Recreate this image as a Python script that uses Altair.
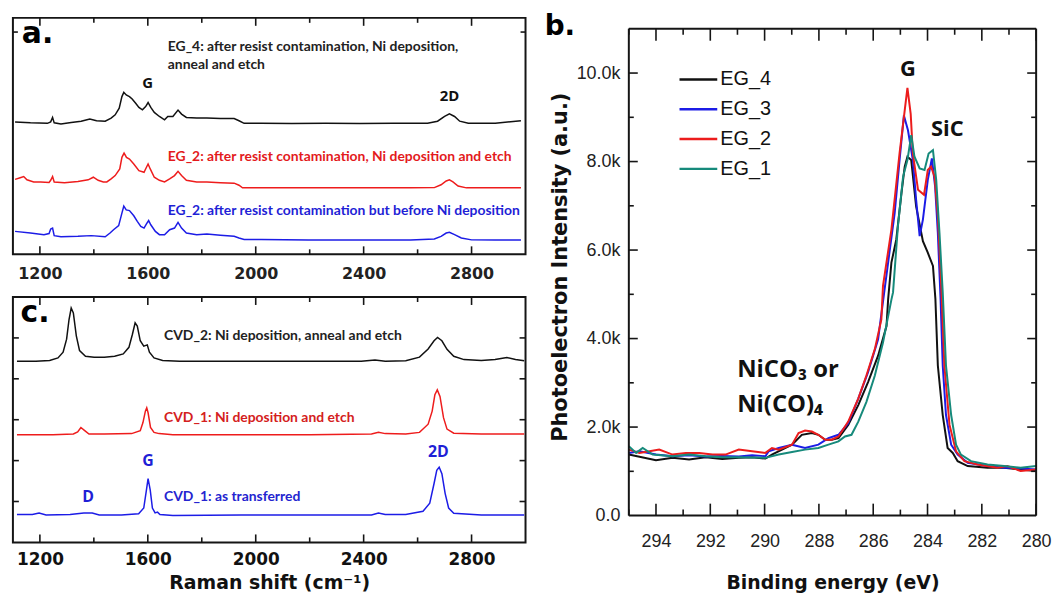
import altair as alt
import pandas as pd

# ---------------- Panel a: Raman spectra of epitaxial graphene ----------------
a_eg4_shift = [1108, 1165, 1228, 1240, 1247, 1253, 1278, 1316, 1353, 1385, 1410, 1442, 1464, 1479, 1494, 1504, 1511,
               1520, 1532, 1542, 1555, 1567, 1580, 1592, 1601, 1611, 1624, 1643, 1662, 1674, 1693, 1712, 1725, 1743,
               1781, 1819, 1869, 1920, 1938, 1957, 2020, 2133, 2259, 2385, 2511, 2637, 2674, 2700, 2718, 2737, 2756,
               2788, 2888, 2983]
a_eg4_int = [56.0, 55.6, 55.4, 56.0, 57.9, 55.6, 55.1, 55.7, 56.3, 57.2, 56.5, 56.3, 57.6, 59.0, 61.8, 66.7, 68.5,
             67.4, 66.7, 65.7, 63.9, 62.1, 61.1, 62.5, 64.2, 62.1, 60.0, 58.3, 56.9, 58.3, 58.3, 61.0, 59.3, 57.9,
             57.6, 57.6, 57.4, 57.4, 56.5, 55.4, 55.4, 55.3, 55.4, 55.3, 55.4, 55.4, 56.3, 58.3, 59.4, 58.3, 56.3,
             55.4, 55.4, 56.5]

a_eg2etch_shift = [1108, 1127, 1140, 1152, 1177, 1203, 1234, 1240, 1247, 1253, 1291, 1341, 1379, 1398, 1416, 1435,
                   1448, 1464, 1479, 1496, 1504, 1512, 1521, 1532, 1548, 1567, 1586, 1595, 1601, 1609, 1624, 1643,
                   1662, 1681, 1699, 1712, 1725, 1743, 1781, 1819, 1869, 1920, 1938, 1951, 2020, 2196, 2385, 2574,
                   2662, 2687, 2706, 2718, 2731, 2750, 2781, 2888, 2983]
a_eg2etch_int = [31.7, 32.4, 32.9, 31.5, 30.6, 30.6, 30.4, 31.3, 32.9, 30.6, 30.3, 30.8, 31.5, 32.6, 31.3, 30.6,
                 30.6, 31.9, 33.3, 36.1, 41.0, 42.8, 41.0, 40.3, 38.2, 35.4, 34.7, 36.8, 38.2, 36.1, 32.6, 31.3,
                 30.6, 31.9, 33.3, 35.1, 33.3, 31.3, 30.6, 30.6, 30.3, 30.1, 29.2, 28.1, 28.1, 28.1, 28.1, 28.1,
                 28.2, 29.4, 31.0, 31.5, 30.6, 28.9, 28.1, 28.1, 28.1]

a_eg2pre_shift = [1108, 1165, 1215, 1234, 1240, 1247, 1253, 1278, 1341, 1391, 1442, 1460, 1473, 1492, 1504, 1511,
                  1520, 1532, 1548, 1561, 1574, 1586, 1595, 1603, 1611, 1628, 1643, 1662, 1681, 1699, 1712, 1725,
                  1743, 1781, 1819, 1869, 1920, 1938, 1957, 2020, 2196, 2385, 2574, 2662, 2687, 2706, 2718, 2737,
                  2762, 2800, 2888, 2983]
a_eg2pre_int = [9.7, 9.0, 8.3, 8.8, 10.7, 11.1, 7.9, 7.4, 7.6, 7.9, 7.4, 9.0, 10.4, 12.1, 17.4, 20.4, 18.8, 18.5,
                16.3, 13.9, 11.8, 11.1, 12.9, 14.3, 12.5, 9.7, 8.3, 8.3, 10.4, 11.1, 13.5, 11.1, 9.0, 8.3, 8.6, 8.1,
                7.6, 6.9, 6.3, 6.3, 6.1, 6.1, 6.1, 6.5, 7.6, 9.0, 9.3, 8.3, 6.9, 6.1, 6.0, 6.0]

# ---------------- Panel c: Raman spectra of CVD graphene ----------------
c_cvd2_shift = [1115, 1185, 1236, 1267, 1286, 1299, 1308, 1316, 1324, 1335, 1347, 1369, 1401, 1439, 1477, 1509,
                1530, 1543, 1553, 1561, 1572, 1585, 1598, 1606, 1623, 1655, 1718, 1947, 2201, 2391, 2442, 2480,
                2556, 2607, 2639, 2661, 2674, 2690, 2709, 2734, 2772, 2836, 2887, 2931, 2963, 2995]
c_cvd2_int = [4.43, 4.43, 4.45, 4.51, 4.65, 4.97, 5.45, 5.73, 5.61, 5.05, 4.69, 4.55, 4.53, 4.53, 4.55, 4.61, 4.77,
              5.09, 5.37, 5.29, 4.93, 4.80, 4.83, 4.65, 4.51, 4.45, 4.43, 4.43, 4.43, 4.43, 4.46, 4.43, 4.44, 4.53,
              4.73, 4.93, 5.01, 4.93, 4.72, 4.55, 4.47, 4.45, 4.47, 4.52, 4.47, 4.44]

c_cvd1etch_shift = [1115, 1248, 1324, 1340, 1352, 1365, 1382, 1439, 1540, 1572, 1582, 1591, 1596, 1601, 1610, 1623,
                    1642, 1693, 1947, 2201, 2429, 2455, 2480, 2556, 2607, 2639, 2654, 2664, 2673, 2683, 2696, 2709,
                    2734, 2836, 2995]
c_cvd1etch_int = [2.63, 2.63, 2.65, 2.70, 2.81, 2.74, 2.65, 2.65, 2.66, 2.73, 2.93, 3.21, 3.29, 3.17, 2.81, 2.69,
                  2.66, 2.63, 2.63, 2.63, 2.65, 2.69, 2.66, 2.65, 2.69, 2.89, 3.21, 3.61, 3.73, 3.57, 3.05, 2.77,
                  2.67, 2.65, 2.65]

c_cvd1as_shift = [1115, 1172, 1197, 1223, 1312, 1363, 1394, 1420, 1502, 1566, 1585, 1594, 1601, 1609, 1617, 1627,
                  1636, 1645, 1693, 1947, 2201, 2429, 2455, 2480, 2556, 2620, 2645, 2661, 2671, 2680, 2690, 2702,
                  2715, 2734, 2836, 2995]
c_cvd1as_int = [0.68, 0.68, 0.72, 0.67, 0.68, 0.72, 0.72, 0.67, 0.67, 0.70, 0.84, 1.24, 1.56, 1.28, 0.84, 0.72,
                0.74, 0.68, 0.66, 0.67, 0.67, 0.67, 0.72, 0.68, 0.68, 0.76, 0.96, 1.44, 1.76, 1.84, 1.68, 1.20,
                0.84, 0.71, 0.67, 0.67]

# ---------------- Panel b: C 1s XPS spectra ----------------
b_series = ["EG_4", "EG_3", "EG_2", "EG_1"]
b_colors = ["#111111", "#1c1ce6", "#ec1c1c", "#168a7b"]

b_eg4_be = [295.0, 294.0, 293.39, 292.78, 292.17, 291.56, 290.95, 290.46, 289.97, 289.73, 288.99, 288.63, 288.26,
            288.02, 287.77, 287.53, 287.28, 286.92, 286.55, 286.19, 285.82, 285.51, 285.45, 285.33, 285.15, 284.96,
            284.84, 284.74, 284.60, 284.42, 284.17, 283.99, 283.80, 283.71, 283.62, 283.44, 283.26, 283.07, 282.89,
            282.52, 281.79, 281.18, 280.57, 280.0]
b_eg4_int = [1378, 1252, 1304, 1267, 1319, 1281, 1304, 1319, 1289, 1378, 1602, 1825, 1863, 1825, 1714, 1714, 1751,
             2049, 2496, 3017, 3613, 4284, 4893, 5716, 6239, 7286, 7884, 8108, 8034, 6987, 6202, 5940, 5641, 4893,
             3390, 2272, 1527, 1416, 1229, 1118, 1080, 1080, 1043, 1006]

b_eg3_be = [295.0, 294.61, 294.0, 293.39, 292.78, 292.17, 291.56, 290.95, 290.46, 289.97, 289.85, 289.48, 288.99,
            288.51, 288.02, 287.65, 287.28, 286.92, 286.55, 286.19, 285.82, 285.58, 285.21, 285.03, 284.87, 284.72,
            284.54, 284.42, 284.29, 284.17, 283.99, 283.84, 283.72, 283.62, 283.52, 283.44, 283.32, 283.13, 282.89,
            282.52, 281.79, 281.18, 280.57, 280.0]
b_eg3_int = [1416, 1453, 1378, 1341, 1363, 1334, 1348, 1334, 1363, 1341, 1453, 1527, 1602, 1527, 1602, 1751, 1825,
             2086, 2645, 3241, 3986, 5118, 6837, 8034, 9043, 8707, 8034, 7136, 6314, 6688, 7585, 8071, 7435, 6389,
             4893, 3390, 2272, 1602, 1378, 1192, 1118, 1080, 1065, 1043]

b_eg2_be = [295.0, 294.61, 293.88, 293.39, 292.90, 292.41, 291.92, 291.44, 290.95, 290.46, 289.97, 289.73, 289.48,
            288.99, 288.75, 288.51, 288.26, 288.02, 287.77, 287.53, 287.28, 286.92, 286.55, 286.25, 285.94, 285.70,
            285.64, 285.33, 285.03, 284.84, 284.74, 284.62, 284.54, 284.35, 284.13, 283.99, 283.87, 283.74, 283.62,
            283.50, 283.38, 283.19, 282.95, 282.64, 282.16, 281.42, 281.06, 280.57, 280.0]
b_eg2_int = [1490, 1416, 1490, 1378, 1416, 1416, 1378, 1378, 1490, 1453, 1416, 1527, 1490, 1602, 1863, 1922, 1900,
             1825, 1714, 1714, 1788, 2123, 2645, 3166, 3762, 4433, 5192, 6464, 8183, 9155, 9664, 9080, 8183, 7361,
             7248, 7809, 7884, 7660, 6763, 5267, 3390, 2049, 1453, 1229, 1155, 1080, 1118, 1006, 1043]

b_eg1_be = [295.0, 294.73, 294.49, 294.12, 293.39, 292.78, 292.17, 291.56, 290.95, 289.97, 289.48, 288.99, 288.51,
            288.02, 287.65, 287.28, 287.04, 286.80, 286.55, 286.25, 285.94, 285.64, 285.33, 285.27, 285.09, 284.90,
            284.74, 284.60, 284.48, 284.29, 284.11, 283.96, 283.80, 283.68, 283.56, 283.44, 283.32, 283.13, 282.95,
            282.77, 282.40, 281.79, 281.18, 280.57, 280.0]
b_eg1_int = [1565, 1416, 1527, 1378, 1341, 1378, 1341, 1319, 1319, 1304, 1378, 1438, 1490, 1527, 1602, 1676, 1788,
             1825, 2123, 2570, 3166, 3911, 4880, 5043, 6538, 7660, 8034, 8594, 8108, 7847, 7809, 8183, 8258, 7585,
             6389, 5043, 3390, 2272, 1602, 1378, 1229, 1155, 1118, 1080, 1118]

# tick values / axis limits
raman_major = [1200, 1600, 2000, 2400, 2800]
raman_minor = [1400, 1800, 2200, 2600]
a_yticks = [94]
c_yticks = [1, 2, 3, 4, 5]
b_x_major = [294, 292, 290, 288, 286, 284, 282, 280]
b_x_minor = [295, 293, 291, 289, 287, 285, 283, 281]
b_y_major = [2000, 4000, 6000, 8000, 10000]
b_y_minor = [1000, 3000, 5000, 7000, 9000]
b_y_top = 11000  # upper limit of the intensity axis (frame top)

# annotations
a_note_x = [1674, 1674, 1674, 1674]
a_note_y = [87.5, 79.9, 41.0, 18.5]
a_note_text = ["EG_4: after resist contamination, Ni deposition,", "anneal and etch",
               "EG_2: after resist contamination, Ni deposition and etch",
               "EG_2: after resist contamination but before Ni deposition"]
a_note_color = ["#222222", "#222222", "#e31a1c", "#1f1fd6"]
a_peak_x = [1599, 2718]
a_peak_y = [72.5, 67.0]
a_peak_text = ["G", "2D"]

c_note_x = [1660, 1660, 1660]
c_note_y = [5.05, 3.05, 1.10]
c_note_text = ["CVD_2: Ni deposition, anneal and etch", "CVD_1: Ni deposition and etch", "CVD_1: as transferred"]
c_note_color = ["#222222", "#d42020", "#2424d0"]
c_peak_x = [1379, 1601, 2677]
c_peak_y = [1.12, 2.0, 2.2]
c_peak_text = ["D", "G", "2D"]

b_peak_x = [284.72, 283.27]
b_peak_y = [10090, 8744]
b_peak_text = ["G", "SiC"]
b_ni_x = [291.01, 291.01]
b_ni_y = [3278, 2496]
b_ni_text = ["NiCO\u2083 or", "Ni(CO)\u2084"]

FRAME = "#151515"
NARROW = "Liberation Sans Narrow, Liberation Sans, Arial"
NOTE = "Lato, Open Sans, sans-serif"
BOLD = "Open Sans, Liberation Sans, sans-serif"
U = alt.Undefined

WA, HA = 516, 238
WC, HC = 516, 247
WB, HB = 410, 501

RX = alt.Scale(domain=[1100, 3000], nice=False, zero=False)
AY = alt.Scale(domain=[0, 100], nice=False, zero=False)
CY = alt.Scale(domain=[0, 6], nice=False, zero=False)
BX = alt.Scale(domain=[295, 280], nice=False, zero=False)
BY = alt.Scale(domain=[0, 11247], nice=False, zero=False)


def line_df(xs, ys, name):
    return pd.DataFrame({"x": xs, "y": ys, "series": name, "order": list(range(len(xs)))})


def x_ticks(vals, scale, length, height):
    df = pd.DataFrame({"x": vals})
    base = alt.Chart(df).mark_rule(color=FRAME, strokeWidth=1.6)
    bottom = base.encode(x=alt.X("x:Q", scale=scale), y=alt.value(height), y2=alt.value(height - length))
    top = base.encode(x=alt.X("x:Q", scale=scale), y=alt.value(0), y2=alt.value(length))
    return [bottom, top]


def y_ticks(vals, scale, yaxis, length, width):
    df = pd.DataFrame({"y": vals})
    base = alt.Chart(df).mark_rule(color=FRAME, strokeWidth=1.6)
    left = base.encode(y=alt.Y("y:Q", scale=scale, axis=yaxis), x=alt.value(0), x2=alt.value(length))
    right = base.encode(y=alt.Y("y:Q", scale=scale, axis=yaxis), x=alt.value(width), x2=alt.value(width - length))
    return [left, right]


def raman_line(xs, ys, name, color, yscale, axis=U):
    return alt.Chart(line_df(xs, ys, name)).mark_line(color=color, strokeWidth=1.5).encode(
        x=alt.X("x:Q", scale=RX, axis=axis),
        y=alt.Y("y:Q", scale=yscale, axis=None),
        order="order:Q",
    )


def texts(xs, ys, labels, colors, xscale, yscale, yaxis, font, size, weight, align):
    df = pd.DataFrame({"x": xs, "y": ys, "label": labels, "c": colors})
    return alt.Chart(df).mark_text(align=align, baseline="middle", font=font, fontSize=size,
                                   fontWeight=weight).encode(
        x=alt.X("x:Q", scale=xscale),
        y=alt.Y("y:Q", scale=yscale, axis=yaxis),
        text="label:N",
        color=alt.Color("c:N", scale=None),
    )


# ---------------- panel a ----------------
axis_a = alt.Axis(values=raman_major, format="d", title=None, ticks=False, tickSize=0, domain=False, grid=False,
                  labelFont="DejaVu Sans", labelFontWeight="bold", labelFontSize=16, labelColor="#222222",
                  labelPadding=11)
panel_a = alt.layer(
    raman_line(a_eg4_shift, a_eg4_int, "EG_4", "#111111", AY, axis_a),
    raman_line(a_eg2etch_shift, a_eg2etch_int, "EG_2 etch", "#ee1c1c", AY),
    raman_line(a_eg2pre_shift, a_eg2pre_int, "EG_2 pre", "#1c1ce6", AY),
    *x_ticks(raman_major, RX, 8, HA),
    *x_ticks(raman_minor, RX, 5, HA),
    *y_ticks(a_yticks, AY, None, 5, WA),
    texts(a_note_x, a_note_y, a_note_text, a_note_color, RX, AY, None, NOTE, 14, "bold", "left"),
    texts(a_peak_x, a_peak_y, a_peak_text, ["#111111", "#111111"], RX, AY, None, BOLD, 15, "bold", "center"),
    texts([1133], [93.0], ["a."], ["#000000"], RX, AY, None, "DejaVu Sans", 30, "bold", "left"),
).properties(width=WA, height=HA)

# ---------------- panel c ----------------
axis_c = alt.Axis(values=raman_major, format="d", title="Raman shift (cm\u207b\u00b9)", ticks=False, tickSize=0,
                  domain=False, grid=False, labelFont="DejaVu Sans", labelFontWeight="bold", labelFontSize=17,
                  labelColor="#111111", labelPadding=9, titleFont="DejaVu Sans", titleFontWeight="bold",
                  titleFontSize=19, titleColor="#111111", titlePadding=6)
panel_c = alt.layer(
    raman_line(c_cvd2_shift, c_cvd2_int, "CVD_2", "#111111", CY, axis_c),
    raman_line(c_cvd1etch_shift, c_cvd1etch_int, "CVD_1 etch", "#ee1c1c", CY),
    raman_line(c_cvd1as_shift, c_cvd1as_int, "CVD_1 as", "#1c1ce6", CY),
    *x_ticks(raman_major, RX, 8, HC),
    *x_ticks(raman_minor, RX, 5, HC),
    *y_ticks(c_yticks, CY, None, 6, WC),
    texts(c_note_x, c_note_y, c_note_text, c_note_color, RX, CY, None, NOTE, 14, "bold", "left"),
    texts(c_peak_x, c_peak_y, c_peak_text, ["#1f1fd6"] * 3, RX, CY, None, BOLD, 16, "bold", "center"),
    texts([1128], [5.6], ["c."], ["#000000"], RX, CY, None, "DejaVu Sans", 30, "bold", "left"),
).properties(width=WC, height=HC)

# ---------------- panel b ----------------
b_df = pd.concat([
    line_df(b_eg4_be, b_eg4_int, "EG_4"),
    line_df(b_eg3_be, b_eg3_int, "EG_3"),
    line_df(b_eg2_be, b_eg2_int, "EG_2"),
    line_df(b_eg1_be, b_eg1_int, "EG_1"),
])
b_lines = alt.Chart(b_df).mark_line(strokeWidth=2).encode(
    x=alt.X("x:Q", scale=BX, axis=alt.Axis(
        values=b_x_major, format="d", title="Binding energy (eV)", ticks=False, tickSize=0, domain=False,
        grid=False, labelFlush=False, labelFont=NARROW, labelFontSize=18, labelColor="#222222", labelPadding=17,
        titleFont="DejaVu Sans", titleFontWeight="bold", titleFontSize=19, titleColor="#111111", titlePadding=23)),
    y=alt.Y("y:Q", scale=BY, axis=alt.Axis(
        values=[0] + b_y_major, title="Photoelectron Intensity (a.u.)", ticks=False, tickSize=0, domain=False,
        grid=False, labelFlush=False,
        labelExpr="datum.value == 0 ? '0.0' : format(datum.value / 1000, '.1f') + 'k'",
        labelFont=NARROW, labelFontSize=18, labelColor="#222222", labelPadding=9,
        titleFont="DejaVu Sans", titleFontWeight="bold", titleFontSize=21, titleColor="#111111", titlePadding=6)),
    color=alt.Color("series:N", scale=alt.Scale(domain=b_series, range=b_colors), legend=alt.Legend(
        title=None, orient="none", legendX=679, legendY=51, symbolType="M-2,0H2", symbolSize=361,
        symbolStrokeWidth=2.5, labelFont=NARROW, labelFontSize=20, labelColor="#111111", labelOffset=11,
        rowPadding=9, padding=0)),
    detail="series:N",
    order="order:Q",
)

b_top_df = pd.DataFrame({"y": [b_y_top]})
b_frame = [
    alt.Chart(b_top_df).mark_rule(color=FRAME, strokeWidth=2).encode(
        y=alt.Y("y:Q", scale=BY), x=alt.value(0), x2=alt.value(WB)),
    alt.Chart(b_top_df).mark_rule(color=FRAME, strokeWidth=2).encode(
        y=alt.Y("y:Q", scale=BY), y2=alt.value(HB), x=alt.value(0)),
    alt.Chart(b_top_df).mark_rule(color=FRAME, strokeWidth=2).encode(
        y=alt.Y("y:Q", scale=BY), y2=alt.value(HB), x=alt.value(WB)),
    alt.Chart(b_top_df).mark_rule(color=FRAME, strokeWidth=2).encode(
        y=alt.value(HB), x=alt.value(0), x2=alt.value(WB)),
]


def b_x_ticks(vals, length):
    df = pd.DataFrame({"x": vals, "top": b_y_top})
    bottom = alt.Chart(df).mark_rule(color=FRAME, strokeWidth=1.6).encode(
        x=alt.X("x:Q", scale=BX), y=alt.value(HB), y2=alt.value(HB - length))
    top = alt.Chart(df).mark_rule(color=FRAME, strokeWidth=1.6, y2Offset=length).encode(
        x=alt.X("x:Q", scale=BX), y=alt.Y("top:Q", scale=BY), y2="top:Q")
    return [bottom, top]


panel_b = alt.layer(
    b_lines,
    *b_frame,
    *b_x_ticks(b_x_major, 12),
    *b_x_ticks(b_x_minor, 6),
    *y_ticks(b_y_major, BY, U, 9, WB),
    *y_ticks(b_y_minor, BY, U, 5, WB),
    texts(b_peak_x, b_peak_y, b_peak_text, ["#111111", "#111111"], BX, BY, U, BOLD, 22, "bold", "center"),
    texts(b_ni_x, b_ni_y, b_ni_text, ["#111111", "#111111"], BX, BY, U, BOLD, 24, "bold", "left"),
    texts([298.1], [11045], ["b."], ["#000000"], BX, BY, U, "DejaVu Sans", 28, "bold", "left"),
).properties(width=WB, height=HB, view=alt.ViewBackground(strokeOpacity=0))

chart = alt.hconcat(
    alt.vconcat(panel_a, panel_c, spacing=13),
    panel_b,
    spacing=16,
).properties(
    padding={"left": 11, "top": 10, "right": 5, "bottom": 5},
    background="white",
).configure_view(stroke=FRAME, strokeWidth=2)

chart.save("out.html", embed_options={"renderer": "svg", "actions": False})
